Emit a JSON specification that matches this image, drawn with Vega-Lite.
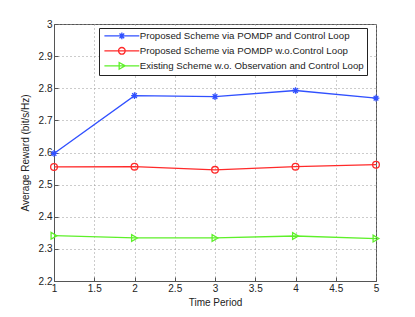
{
  "$schema": "https://vega.github.io/schema/vega-lite/v6.json",
  "width": 322,
  "height": 257,
  "autosize": {"type": "none"},
  "padding": {"left": 54, "top": 24, "right": 39, "bottom": 36},
  "background": "white",
  "config": {
    "font": "Liberation Sans",
    "view": {"stroke": "#555555", "strokeWidth": 1},
    "axis": {
      "labelFont": "Liberation Sans",
      "labelFontSize": 10,
      "labelColor": "#222222",
      "titleFont": "Liberation Sans",
      "titleFontSize": 10,
      "titleFontWeight": "normal",
      "titleColor": "#222222",
      "domainColor": "#555555",
      "tickColor": "#555555",
      "tickSize": -4,
      "labelPadding": 6,
      "gridColor": "#999999",
      "gridDash": [1, 3],
      "gridWidth": 1,
      "gridOpacity": 1
    },
    "legend": {
      "labelFont": "Liberation Sans",
      "labelFontSize": 9.7,
      "labelColor": "#222222",
      "labelLimit": 400
    }
  },
  "data": {
    "values": [
      {"t": 1, "r": 2.597, "s": "Proposed Scheme via POMDP and Control Loop"},
      {"t": 2, "r": 2.777, "s": "Proposed Scheme via POMDP and Control Loop"},
      {"t": 3, "r": 2.774, "s": "Proposed Scheme via POMDP and Control Loop"},
      {"t": 4, "r": 2.793, "s": "Proposed Scheme via POMDP and Control Loop"},
      {"t": 5, "r": 2.769, "s": "Proposed Scheme via POMDP and Control Loop"},
      {"t": 1, "r": 2.555, "s": "Proposed Scheme via POMDP w.o.Control Loop"},
      {"t": 2, "r": 2.556, "s": "Proposed Scheme via POMDP w.o.Control Loop"},
      {"t": 3, "r": 2.546, "s": "Proposed Scheme via POMDP w.o.Control Loop"},
      {"t": 4, "r": 2.556, "s": "Proposed Scheme via POMDP w.o.Control Loop"},
      {"t": 5, "r": 2.562, "s": "Proposed Scheme via POMDP w.o.Control Loop"},
      {"t": 1, "r": 2.341, "s": "Existing Scheme w.o. Observation and Control Loop"},
      {"t": 2, "r": 2.334, "s": "Existing Scheme w.o. Observation and Control Loop"},
      {"t": 3, "r": 2.334, "s": "Existing Scheme w.o. Observation and Control Loop"},
      {"t": 4, "r": 2.340, "s": "Existing Scheme w.o. Observation and Control Loop"},
      {"t": 5, "r": 2.332, "s": "Existing Scheme w.o. Observation and Control Loop"}
    ]
  },
  "encoding": {
    "x": {
      "field": "t", "type": "quantitative",
      "scale": {"domain": [1, 5], "nice": false},
      "axis": {"title": "Time Period", "values": [1, 1.5, 2, 2.5, 3, 3.5, 4, 4.5, 5], "format": ".1~f", "titlePadding": 4, "labelFlush": false}
    },
    "y": {
      "field": "r", "type": "quantitative",
      "scale": {"domain": [2.2, 3], "nice": false, "zero": false},
      "axis": {"title": "Average Reward (bit/s/Hz)", "values": [2.2, 2.3, 2.4, 2.5, 2.6, 2.7, 2.8, 2.9, 3], "format": ".1~f", "titlePadding": 8, "labelFlush": false}
    }
  },
  "layer": [
    {
      "mark": {"type": "line", "strokeWidth": 1.3},
      "encoding": {
        "color": {
          "field": "s", "type": "nominal",
          "scale": {
            "domain": ["Proposed Scheme via POMDP and Control Loop", "Proposed Scheme via POMDP w.o.Control Loop", "Existing Scheme w.o. Observation and Control Loop"],
            "range": ["#3050ff", "#ff2a2a", "#5ef02a"]
          },
          "legend": null
        }
      }
    },
    {
      "mark": {"type": "point", "filled": false, "strokeWidth": 1.3, "size": 45, "opacity": 1},
      "encoding": {
        "color": {
          "field": "s", "type": "nominal",
          "scale": {
            "domain": ["Proposed Scheme via POMDP and Control Loop", "Proposed Scheme via POMDP w.o.Control Loop", "Existing Scheme w.o. Observation and Control Loop"],
            "range": ["#3050ff", "#ff2a2a", "#5ef02a"]
          },
          "legend": null
        },
        "shape": {
          "field": "s", "type": "nominal",
          "scale": {
            "domain": ["Proposed Scheme via POMDP and Control Loop", "Proposed Scheme via POMDP w.o.Control Loop", "Existing Scheme w.o. Observation and Control Loop"],
            "range": ["M0,-1V1M-1,0H1M-0.7,-0.7L0.7,0.7M-0.7,0.7L0.7,-0.7", "circle", "triangle-right"]
          },
          "legend": null
        }
      }
    },
    {
      "transform": [{"filter": "datum.t > 100"}],
      "mark": {"type": "point", "filled": false, "strokeWidth": 1.3, "size": 45, "opacity": 1},
      "encoding": {
        "color": {
          "field": "s", "type": "nominal",
          "scale": {
            "domain": ["Proposed Scheme via POMDP and Control Loop", "Proposed Scheme via POMDP w.o.Control Loop", "Existing Scheme w.o. Observation and Control Loop"],
            "range": ["#3050ff", "#ff2a2a", "#5ef02a"]
          },
          "legend": {
            "title": null,
            "orient": "none",
            "legendX": 45,
            "legendY": 4,
            "strokeColor": "#222222",
            "fillColor": "white",
            "padding": 3,
            "rowPadding": 2,
            "symbolSize": 45,
            "symbolStrokeWidth": 1.3,
            "symbolOffset": 15,
            "labelOffset": 13,
            "symbolOpacity": 1
          }
        },
        "shape": {
          "field": "s", "type": "nominal",
          "scale": {
            "domain": ["Proposed Scheme via POMDP and Control Loop", "Proposed Scheme via POMDP w.o.Control Loop", "Existing Scheme w.o. Observation and Control Loop"],
            "range": [
              "M-5.2,0H5.2M0,-1V1M-1,0H1M-0.7,-0.7L0.7,0.7M-0.7,0.7L0.7,-0.7",
              "M-5.2,0H5.2M1,0A1,1 0 1 1 -1,0A1,1 0 1 1 1,0Z",
              "M-5.2,0H5.2M-0.8,-1L1,0L-0.8,1Z"
            ]
          },
          "legend": {
            "title": null,
            "orient": "none",
            "legendX": 45,
            "legendY": 4,
            "strokeColor": "#222222",
            "fillColor": "white",
            "padding": 3,
            "rowPadding": 2,
            "symbolSize": 45,
            "symbolStrokeWidth": 1.3,
            "symbolOffset": 15,
            "labelOffset": 13,
            "symbolOpacity": 1
          }
        }
      }
    }
  ],
  "resolve": {"scale": {"color": "independent", "shape": "independent"}}
}
